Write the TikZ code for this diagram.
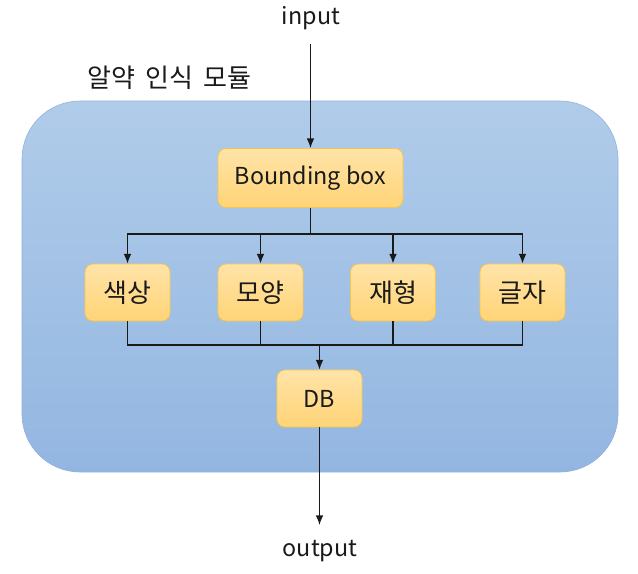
\documentclass[tikz,border=0pt]{standalone}
\usepackage{fontspec}
\setmainfont{Noto Sans CJK KR}
\usetikzlibrary{arrows.meta}

\definecolor{panelTop}{HTML}{B0CCE9}
\definecolor{panelBot}{HTML}{93B6E1}
\definecolor{panelLine}{HTML}{8EB0DC}
\definecolor{boxTop}{HTML}{FFE3A8}
\definecolor{boxBot}{HTML}{FFD476}
\definecolor{boxLine}{HTML}{F4C450}
\definecolor{ink}{HTML}{1A1A1A}

\tikzset{
  panel/.style={draw=panelLine, top color=panelTop, bottom color=panelBot, rounded corners=1.45cm},
  stage/.style={draw=boxLine, line width=0.6pt, top color=boxTop, bottom color=boxBot,
    rounded corners=0.2cm, minimum width=2.125cm, minimum height=1.425cm, text=ink,
    font=\fontsize{16.6}{20}\selectfont},
  hangul/.style={font=\fontsize{18.5}{22}\selectfont},
  label/.style={font=\fontsize{16.6}{20}\selectfont, text=ink},
  flow/.style={ink, line width=0.9pt, -{Latex[length=2.4mm,width=1.9mm]}},
  wire/.style={ink, line width=0.9pt}
}

\begin{document}
\begin{tikzpicture}[x=0.025cm, y=-0.025cm]
	\useasboundingbox (0,0) rectangle (638,573);
	\draw[panel] (22,101) rectangle (618,472);

	\node[label, hangul, anchor=west] (title) at (83,78) {\spaceskip=0.38em\relax 알약 인식 모듈};
	\node[label] (input) at (311,18) {input};
	\node[label] (output) at (320,551) {output};

	\node[stage, minimum width=4.625cm, minimum height=1.475cm] (bbox) at (310.5,178) {Bounding box};
	\node[stage, hangul] (color) at (127.5,292.5) {색상};
	\node[stage, hangul] (shape) at (260.5,292.5) {모양};
	\node[stage, hangul] (form) at (393,292.5) {재형};
	\node[stage, hangul] (letter) at (522.5,292.5) {글자};
	\node[stage] (db) at (319.5,398.5) {DB};

	\coordinate (split) at (310.5,234);
	\coordinate (join) at (319.5,345);
	\coordinate (inTop) at (310.5,44);
	\coordinate (outEnd) at (319.5,525);

	\draw[flow] (inTop) -- (bbox);
	\draw[wire] (bbox) -- (split);
	\foreach \n in {color, shape, form, letter}
		\draw[flow] (split) -| (\n);
	\foreach \n in {color, shape, form, letter}
		\draw[wire] (\n) |- (join);
	\draw[flow] (join) -- (db);
	\draw[flow] (db) -- (outEnd);
\end{tikzpicture}
\end{document}
